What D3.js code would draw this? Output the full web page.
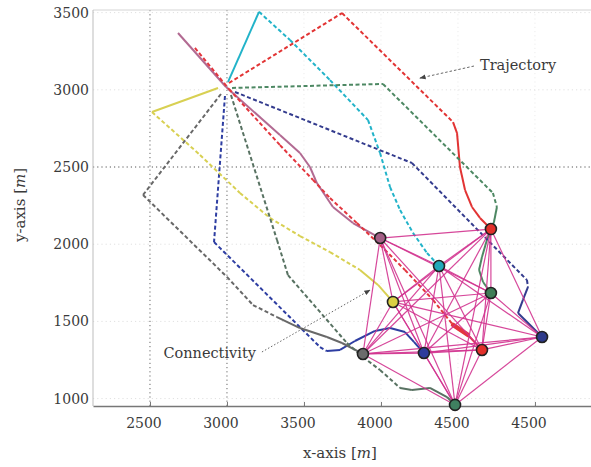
<!DOCTYPE html>
<html><head><meta charset="utf-8">
<script src="https://cdn.jsdelivr.net/npm/d3@7/dist/d3.min.js"></script>
<style>body{margin:0;background:#fff}svg{display:block}text{font-family:"DejaVu Serif",serif;fill:#3a3a3a}</style>
</head><body><svg id="c" width="591" height="467"></svg>
<script>
// ---- data ----
const xTicks = [2500, 3000, 3500, 4000, 4500, 5000];
const xTickLabels = ["2500", "3000", "3500", "4000", "4500", "4500"];
const yTicks = [1000, 1500, 2000, 2500, 3000, 3500];
const yTickLabels = ["1000", "1500", "2000", "2500", "3000", "3500"];

const nodeNames = ["A","B","C","D","E","F","G","H","I","J"];
const nodeX = [3995, 4714, 4377, 4714, 4078, 5046, 3883, 4279, 4656, 4481];
const nodeY = [2040, 2098, 1859, 1684, 1626, 1399, 1289, 1295, 1315, 959];
const nodeColors = ["#a45f86","#e2302a","#22a9ba","#3f7d56","#d9d043","#2d3a8a","#6b6b6b","#2d3b9c","#e2302a","#3f8060"];

// trajectories (x,y in metres); the last point is the node where it ends
const trajCyanX = [3007, 3208, 3409, 3669, 3916, 3994, 4059, 4124, 4208, 4299, 4377];
const trajCyanY = [3051, 3505, 3323, 3063, 2804, 2591, 2370, 2221, 2073, 1943, 1859];
const trajRedTopX = [3013, 3747, 4468, 4494, 4513, 4546, 4591, 4643, 4714];
const trajRedTopY = [3044, 3497, 2791, 2720, 2500, 2351, 2241, 2170, 2098];
const trajGreenX = [3033, 4013, 4727, 4753, 4734, 4688, 4656, 4637, 4663, 4714];
const trajGreenY = [3012, 3038, 2332, 2241, 2144, 2027, 1917, 1833, 1755, 1684];
const trajNavyX = [3052, 4201, 4948, 4955, 4922, 4890, 5046];
const trajNavyY = [2986, 2526, 1768, 1723, 1639, 1554, 1399];
const trajBlueX = [2987, 2916, 3604, 3649, 3734, 3831, 3961, 4059, 4156, 4214, 4279];
const trajBlueY = [2960, 2014, 1334, 1308, 1315, 1373, 1438, 1457, 1431, 1367, 1295];
const trajYellowX = [2942, 2513, 2825, 3084, 3279, 3474, 3669, 3864, 3981, 4078];
const trajYellowY = [3012, 2856, 2578, 2332, 2170, 2053, 1949, 1833, 1736, 1626];
const trajGrayX = [2961, 2455, 3000, 3169, 3325, 3474, 3649, 3747, 3883];
const trajGrayY = [2973, 2319, 1788, 1606, 1528, 1457, 1399, 1360, 1289];
const trajDarkX = [3026, 3325, 3396, 3779, 3883, 3994, 4124, 4201, 4318, 4429, 4481];
const trajDarkY = [2966, 2027, 1800, 1360, 1269, 1185, 1069, 1056, 1069, 1010, 959];
const trajMauveX = [2682, 2994, 3344, 3474, 3539, 3584, 3688, 3818, 3995];
const trajMauveY = [3368, 3018, 2707, 2591, 2500, 2396, 2241, 2137, 2040];
const trajRedDiagX = [2792, 3013, 3344, 3559, 3669, 3844, 3994, 4156, 4338, 4468, 4565, 4656];
const trajRedDiagY = [3271, 3005, 2642, 2416, 2299, 2137, 1995, 1833, 1639, 1477, 1412, 1315];

// segment line style per trajectory: s = solid, d = dashed, t = thick
const trajectories = [
  {x: trajCyanX, y: trajCyanY, color: "#22b3c9", seg: "sddddddddd"},
  {x: trajRedTopX, y: trajRedTopY, color: "#e23434", seg: "ddssssss"},
  {x: trajGreenX, y: trajGreenY, color: "#4d8863", seg: "dddsssssss"},
  {x: trajNavyX, y: trajNavyY, color: "#343c8e", seg: "dddsss"},
  {x: trajBlueX, y: trajBlueY, color: "#2e3ea2", seg: "dddsssssss"},
  {x: trajYellowX, y: trajYellowY, color: "#d8d052", seg: "sddddddss"},
  {x: trajGrayX, y: trajGrayY, color: "#686868", seg: "ddddssss"},
  {x: trajDarkX, y: trajDarkY, color: "#587262", seg: "ddddddssss"},
  {x: trajMauveX, y: trajMauveY, color: "#b26a92", seg: "ssssssss"},
  {x: trajRedDiagX, y: trajRedDiagY, color: "#e3363e", seg: "dddddddddts"}
];

// connectivity: all pairs except A-F
const missingEdges = [["A","F"]];

const annTrajText = {x: 4643, y: 3161, label: "Trajectory"};
const annTrajArrow = {x1: 4604, y1: 3154, x2: 4253, y2: 3076};
const annConnText = {x: 3188, y: 1295, label: "Connectivity"};
const annConnArrow = {x1: 3227, y1: 1302, x2: 3929, y2: 1703};

// ---- drawing ----
const svg = d3.select("#c");
const x = d3.scaleLinear().domain([2130, 5364]).range([93, 591]);
const y = d3.scaleLinear().domain([952, 3517]).range([406, 10]);

const defs = svg.append("defs");
defs.append("marker").attr("id","ah").attr("viewBox","0 0 10 10").attr("refX",9).attr("refY",5)
  .attr("markerWidth",7).attr("markerHeight",7).attr("orient","auto")
  .append("path").attr("d","M0,1 L10,5 L0,9 z").attr("fill","#444");

// grid
const strongX = [2500, 3000], strongY = [2500];
svg.append("g").selectAll("line").data(xTicks).join("line")
  .attr("x1", d => x(d)).attr("x2", d => x(d)).attr("y1", y.range()[1]).attr("y2", y.range()[0])
  .attr("stroke", d => strongX.includes(d) ? "#666" : "#ececec")
  .attr("stroke-width", 1).attr("stroke-dasharray", "1.2,3");
svg.append("g").selectAll("line").data(yTicks).join("line")
  .attr("x1", x.range()[0]).attr("x2", x.range()[1]).attr("y1", d => y(d)).attr("y2", d => y(d))
  .attr("stroke", d => strongY.includes(d) ? "#555" : "#e0e0e0")
  .attr("stroke-width", 1).attr("stroke-dasharray", "1.2,3");

// frame
svg.append("line").attr("x1", x.range()[0]).attr("x2", x.range()[1]).attr("y1", y.range()[1]).attr("y2", y.range()[1]).attr("stroke","#d4d4d4");
svg.append("line").attr("x1", x.range()[0]).attr("x2", x.range()[0]).attr("y1", y.range()[1]).attr("y2", y.range()[0]).attr("stroke","#bdbdbd");

// axes
const xAxis = d3.axisBottom(x).tickValues(xTicks).tickFormat("").tickSizeInner(-4).tickSizeOuter(0);
const gx = svg.append("g").attr("transform", `translate(0,${y.range()[0]})`).call(xAxis);
gx.select(".domain").attr("stroke","#777").attr("stroke-width",1.3);
gx.selectAll(".tick line").attr("stroke","#777");
gx.selectAll(".tick text").remove();
svg.append("g").selectAll("text").data(xTicks).join("text")
  .attr("x", d => x(d) - 6).attr("y", y.range()[0] + 17).attr("dy", "0.35em")
  .attr("text-anchor", "middle").attr("font-size", 14)
  .text((d, i) => xTickLabels[i]);

const yAxis = d3.axisLeft(y).tickValues(yTicks).tickFormat((d,i) => yTickLabels[i]).tickSizeInner(0).tickSizeOuter(0).tickPadding(4);
const gy = svg.append("g").attr("transform", `translate(${x.range()[0]},0)`).call(yAxis);
gy.select(".domain").remove();
gy.selectAll("text").attr("font-size",14).attr("fill","#3a3a3a").attr("font-family","DejaVu Serif");

// trajectories
const tg = svg.append("g").attr("fill","none");
trajectories.forEach(t => {
  for (let i = 0; i < t.x.length - 1; i++) {
    const s = t.seg[i] || "d";
    tg.append("line")
      .attr("x1", x(t.x[i])).attr("y1", y(t.y[i]))
      .attr("x2", x(t.x[i+1])).attr("y2", y(t.y[i+1]))
      .attr("stroke", t.color)
      .attr("stroke-width", s === "t" ? 4.5 : 2)
      .attr("stroke-linecap", s === "t" ? "round" : "butt")
      .attr("stroke-dasharray", s === "d" ? "4,2.5" : null);
  }
});

// connectivity edges
const edges = [];
for (let i = 0; i < nodeNames.length; i++) for (let j = i+1; j < nodeNames.length; j++) {
  const miss = missingEdges.some(m => (m[0]===nodeNames[i] && m[1]===nodeNames[j]) || (m[1]===nodeNames[i] && m[0]===nodeNames[j]));
  if (!miss) edges.push([i,j]);
}
svg.append("g").selectAll("line").data(edges).join("line")
  .attr("x1", d => x(nodeX[d[0]])).attr("y1", d => y(nodeY[d[0]]))
  .attr("x2", d => x(nodeX[d[1]])).attr("y2", d => y(nodeY[d[1]]))
  .attr("stroke", "#d2338f").attr("stroke-width", 1.2).attr("stroke-opacity", 0.9);

// nodes
svg.append("g").selectAll("circle").data(nodeNames).join("circle")
  .attr("cx", (d,i) => x(nodeX[i])).attr("cy", (d,i) => y(nodeY[i])).attr("r", 5.5)
  .attr("fill", (d,i) => nodeColors[i]).attr("stroke", "#222").attr("stroke-width", 1.6);

// annotations
svg.append("line").attr("x1", x(annTrajArrow.x1)).attr("y1", y(annTrajArrow.y1))
  .attr("x2", x(annTrajArrow.x2)).attr("y2", y(annTrajArrow.y2))
  .attr("stroke","#555").attr("stroke-width",0.9).attr("stroke-dasharray","2.5,2").attr("marker-end","url(#ah)");
svg.append("text").attr("x", x(annTrajText.x)).attr("y", y(annTrajText.y)).attr("dy","0.35em")
  .attr("font-size",14.5).text(annTrajText.label);
svg.append("line").attr("x1", x(annConnArrow.x1)).attr("y1", y(annConnArrow.y1))
  .attr("x2", x(annConnArrow.x2)).attr("y2", y(annConnArrow.y2))
  .attr("stroke","#555").attr("stroke-width",0.9).attr("stroke-dasharray","1.5,2").attr("marker-end","url(#ah)");
svg.append("text").attr("x", x(annConnText.x)).attr("y", y(annConnText.y)).attr("dy","0.35em")
  .attr("text-anchor","end").attr("font-size",14.5).text(annConnText.label);

// axis titles
const xt = svg.append("text").attr("x", 340).attr("y", 458).attr("text-anchor","middle").attr("font-size",15);
xt.append("tspan").text("x-axis [");
xt.append("tspan").attr("font-style","italic").text("m");
xt.append("tspan").text("]");
const yt = svg.append("text").attr("transform","translate(25,205) rotate(-90)").attr("text-anchor","middle").attr("font-size",15);
yt.append("tspan").text("y-axis [");
yt.append("tspan").attr("font-style","italic").text("m");
yt.append("tspan").text("]");
</script></body></html>
